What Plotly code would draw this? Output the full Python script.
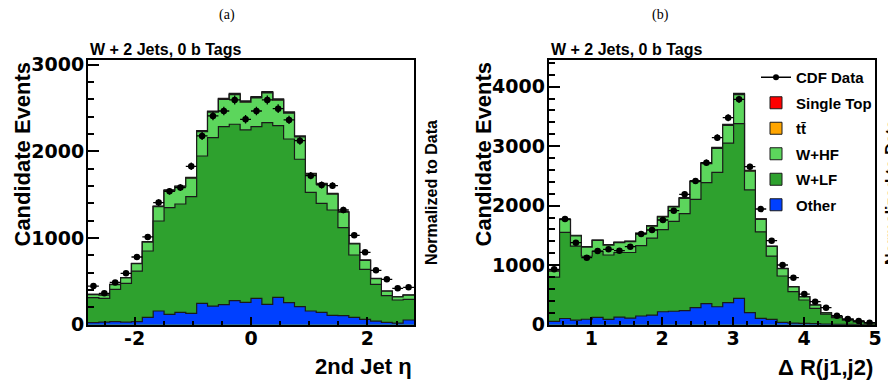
import numpy as np
import plotly.graph_objects as go

# ---------------- Panel (a): 2nd jet eta, 30 bins in [-2.8, 2.8] ----------------
eta_lo, eta_hi, eta_nbins = -2.8, 2.8, 30
eta_other = [23, 30, 35, 30, 35, 85, 158, 119, 142, 131, 246, 215, 231, 277, 258,
             304, 235, 315, 254, 208, 158, 142, 108, 104, 85, 62, 42, 27, 19, 54]
eta_wlf = [289, 274, 373, 447, 584, 765, 1038, 1231, 1250, 1346, 1700, 1943, 2054, 2035, 1988,
           1981, 2096, 1981, 1888, 1700, 1369, 1258, 1215, 1015, 719, 576, 423, 308, 266, 238]
eta_whf = [36, 36, 55, 62, 85, 103, 166, 196, 199, 213, 280, 294, 313, 342, 320,
           331, 342, 294, 299, 257, 209, 222, 184, 178, 129, 104, 67, 51, 36, 48]
eta_tt = [1, 1, 1, 1, 2, 2, 3, 3, 4, 4, 5, 5, 6, 6, 6, 6, 6, 6, 5, 5, 4, 3, 3, 3, 2, 2, 1, 1, 1, 1]
eta_st = [1, 1, 1, 2, 2, 3, 4, 5, 5, 6, 7, 8, 8, 9, 9, 9, 9, 8, 8, 7, 6, 5, 5, 4, 3, 2, 2, 1, 1, 1]
eta_data = [446, 362, 488, 592, 781, 1012, 1408, 1538, 1581, 1827, 2177, 2408, 2465, 2592, 2369,
            2465, 2592, 2492, 2362, 2123, 1719, 1612, 1604, 1323, 1031, 835, 627, 523, 419, 431]

# ---------------- Panel (b): Delta R(j1,j2), 30 bins in [0.4, 5.0] ----------------
dr_lo, dr_hi, dr_nbins = 0.4, 5.0, 30
dr_other = [55, 104, 78, 92, 123, 90, 128, 112, 146, 162, 218, 226, 238, 288, 353,
            302, 370, 443, 202, 106, 90, 39, 28, 22, 17, 11, 6, 4, 2, 1]
dr_wlf = [745, 1448, 1244, 1058, 1109, 1081, 1085, 1101, 1184, 1294, 1378, 1510, 1627, 1818, 2034,
          2258, 2680, 2935, 2063, 1454, 1064, 779, 527, 393, 258, 168, 112, 74, 46, 27]
dr_whf = [100, 213, 171, 154, 184, 167, 166, 183, 202, 199, 214, 243, 257, 298, 320,
          402, 297, 488, 315, 210, 160, 123, 80, 52, 54, 21, 15, 12, 8, 6]
dr_tt = [2, 3, 3, 3, 3, 3, 3, 3, 3, 4, 4, 5, 5, 6, 7, 8, 9, 10, 7, 5, 4, 3, 2, 2, 1, 1, 0, 0, 0, 0]
dr_st = [3, 5, 4, 4, 4, 4, 4, 4, 5, 5, 6, 6, 7, 8, 9, 10, 11, 12, 8, 5, 4, 3, 2, 2, 1, 1, 1, 0, 0, 0]
dr_data = [930, 1776, 1378, 1126, 1238, 1266, 1244, 1311, 1524, 1591, 1759, 1916, 2190, 2415, 2723,
           3143, 3479, 3787, 2655, 1944, 1412, 1003, 790, 515, 387, 286, 151, 95, 62, 34]

sample_names = ["Single Top", "tt\u0304", "W+HF", "W+LF", "Other"]
sample_colors = ["#ff0000", "#ffa500", "#5cd65c", "#2ea12e", "#0040ff"]
outline = "#1a1a1a"

# the page body has an 8px margin: the figure is sized to the remaining window area
OFF = 8
W, H = 896 - OFF, 381 - OFF


def px(x):
    return (x - OFF) / W


def py(y):
    return 1 - (y - OFF) / H


fig = go.Figure()


def add_panel(lo, hi, nb, other, wlf, whf, tt, st, data, xa, ya):
    e = np.linspace(lo, hi, nb + 1)
    c_other = np.array(other, float)
    c_lf = c_other + np.array(wlf, float)
    c_hf = c_lf + np.array(whf, float)
    c_tt = c_hf + np.array(tt, float)
    c_st = c_tt + np.array(st, float)
    xs = np.append(e[:-1], e[-1])
    for cum, col in zip([c_st, c_tt, c_hf, c_lf, c_other], sample_colors):
        ys = np.append(cum, cum[-1])
        fig.add_trace(go.Scatter(x=xs, y=ys, mode="lines", line=dict(shape="hv", color=outline, width=1.2),
                                 fill="tozeroy", fillcolor=col, showlegend=False, hoverinfo="skip",
                                 xaxis=xa, yaxis=ya))
    centers = 0.5 * (e[:-1] + e[1:])
    d = np.array(data, float)
    fig.add_trace(go.Scatter(x=centers, y=d, mode="markers", marker=dict(color="black", size=6.5),
                             error_y=dict(type="data", array=np.sqrt(d), width=0, thickness=1.3, color="black"),
                             error_x=dict(type="data", array=0.5 * np.diff(e), width=0, thickness=1.3, color="black"),
                             showlegend=False, xaxis=xa, yaxis=ya))


add_panel(eta_lo, eta_hi, eta_nbins, eta_other, eta_wlf, eta_whf, eta_tt, eta_st, eta_data, "x", "y")
add_panel(dr_lo, dr_hi, dr_nbins, dr_other, dr_wlf, dr_whf, dr_tt, dr_st, dr_data, "x2", "y2")

# legend entries (right panel)
fig.add_trace(go.Scatter(x=[None], y=[None], mode="lines+markers", name="CDF Data", legendgroup="g0",
                         line=dict(color="black", width=1.5), marker=dict(color="black", size=6),
                         xaxis="x2", yaxis="y2"))
for i, (nm, col) in enumerate(zip(sample_names, sample_colors)):
    fig.add_trace(go.Bar(x=[None], y=[None], name=nm, legendgroup="g%d" % (i + 1),
                         marker=dict(color=col, line=dict(color=outline, width=1)),
                         xaxis="x2", yaxis="y2"))

tickfont = dict(family="DejaVu Sans", size=19, color="black", weight="bold")
common = dict(showline=True, linecolor="black", linewidth=2, mirror=True, ticks="inside",
              tickcolor="black", tickwidth=2, showgrid=False, zeroline=False, tickfont=tickfont,
              automargin=False)

ydom = [py(324.7), py(60)]
fig.update_layout(
    width=W, height=H, margin=dict(l=0, r=0, t=0, b=0, pad=0), autosize=False,
    paper_bgcolor="white", plot_bgcolor="white",
    xaxis=dict(domain=[px(88), px(414)], range=[eta_lo, eta_hi], anchor="y",
               tickvals=[-2, 0, 2], ticktext=["-2", "0", "2"], ticklen=8, ticklabelstandoff=-5,
               minor=dict(dtick=0.5, ticks="inside", ticklen=4, tickwidth=1.5, tickcolor="black"), **common),
    yaxis=dict(domain=ydom, range=[0, 3053], anchor="x", dtick=1000, tickformat="d", ticklen=11,
               ticklabelstandoff=-2,
               minor=dict(dtick=200, ticks="inside", ticklen=6, tickwidth=1.5, tickcolor="black"), **common),
    xaxis2=dict(domain=[px(548.7), px(875)], range=[dr_lo, dr_hi], anchor="y2",
                tickvals=[1, 2, 3, 4, 5], ticklen=8, ticklabelstandoff=-5,
                minor=dict(dtick=0.2, ticks="inside", ticklen=4, tickwidth=1.5, tickcolor="black"), **common),
    yaxis2=dict(domain=ydom, range=[0, 4448], anchor="x2", dtick=1000, tickformat="d", ticklen=11,
                ticklabelstandoff=-2,
                minor=dict(dtick=200, ticks="inside", ticklen=6, tickwidth=1.5, tickcolor="black"), **common),
    showlegend=True,
    legend=dict(x=px(756), y=py(61), xanchor="left", yanchor="top", bgcolor="rgba(0,0,0,0)",
                font=dict(family="Liberation Sans", size=15, color="black", weight="bold"),
                traceorder="grouped", tracegroupgap=3),
)

bold = lambda s: dict(family="Liberation Sans", size=s, color="black", weight="bold")
ann = []
P = dict(xref="paper", yref="paper", showarrow=False)
for xc, lab in [(227, "(a)"), (660, "(b)")]:
    ann.append(dict(x=px(xc), y=py(15), text=lab, xanchor="center", yanchor="middle",
                    font=dict(family="Liberation Serif", size=14, color="black"), **P))
for xl in [88, 549]:
    ann.append(dict(x=px(xl), y=py(50), text="W + 2 Jets, 0 b Tags",
                    xanchor="left", yanchor="middle", font=bold(16), **P))
for xc in [22, 483]:
    ann.append(dict(x=px(xc), y=py(60), text="Candidate Events", textangle=-90,
                    xanchor="center", yanchor="top", font=bold(22), **P))
for xc in [431, 891]:
    ann.append(dict(x=px(xc), y=py(193), text="Normalized to Data", textangle=-90,
                    xanchor="center", yanchor="middle", font=bold(16), **P))
ann.append(dict(x=px(414), y=py(366), text="2nd Jet \u03b7", xanchor="right",
                yanchor="middle", font=bold(22), **P))
ann.append(dict(x=px(875), y=py(367), text="\u0394 R(j1,j2)", xanchor="right",
                yanchor="middle", font=bold(22), **P))
fig.update_layout(annotations=ann)

fig.write_html("out.html")
